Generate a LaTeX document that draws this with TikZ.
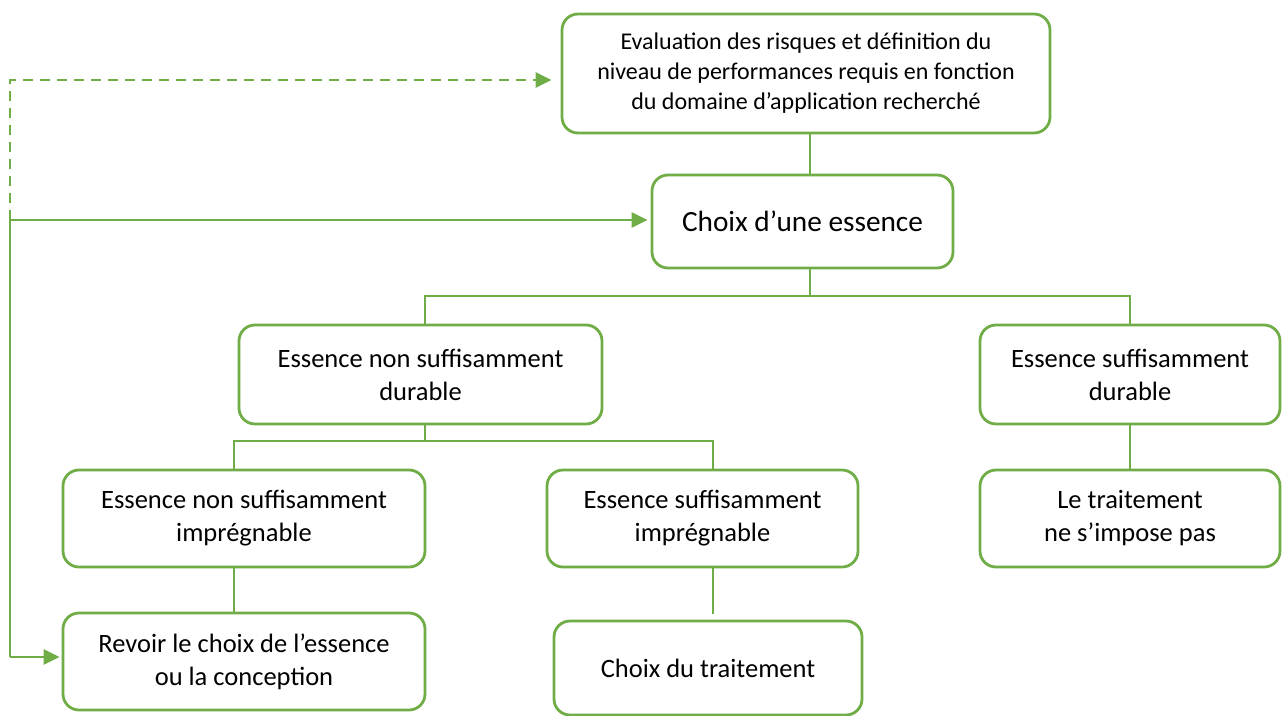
\documentclass[tikz,border=0pt]{standalone}
\usepackage{fontspec}
\setmainfont{Carlito}
\usetikzlibrary{arrows.meta}
\definecolor{leaf}{HTML}{70AD47}
\begin{document}
\begin{tikzpicture}[x=1pt,y=-1pt,
  box/.style={draw=leaf, line width=2.8pt, rounded corners=16pt, fill=white,
    align=center, inner sep=0pt, font=\fontsize{26.5}{33}\selectfont},
  link/.style={draw=leaf, line width=2.8pt},
  arr/.style={link, -{Triangle[length=16pt,width=15pt]}}]
\useasboundingbox (0,0) rectangle (1282,715);

\node[box, minimum width=488pt, minimum height=119pt, font=\fontsize{24}{30}\selectfont] (b1) at (806,73.5)
  {Evaluation des risques et définition du\\niveau de performances requis en fonction\\du domaine d’application recherché};
\node[box, minimum width=301pt, minimum height=93pt, font=\fontsize{29.3}{33}\selectfont] (b2) at (802.5,221.5) {Choix d’une essence};
\node[box, minimum width=363pt, minimum height=99pt] (b3) at (420.5,374.5) {Essence non suffisamment\\durable};
\node[box, minimum width=300pt, minimum height=99pt] (b4) at (1130,374.5) {Essence suffisamment\\durable};
\node[box, minimum width=362pt, minimum height=97pt] (b5) at (244,518.5) {Essence non suffisamment\\imprégnable};
\node[box, minimum width=311pt, minimum height=97pt] (b6) at (702.5,518.5) {Essence suffisamment\\imprégnable};
\node[box, minimum width=300pt, minimum height=97pt] (b7) at (1130,518.5) {Le traitement\\ne s’impose pas};
\node[box, minimum width=362pt, minimum height=97pt] (b8) at (244,661.5) {Revoir le choix de l’essence\\ou la conception};
\node[box, minimum width=308pt, minimum height=94pt] (b9) at (708,668) {Choix du traitement};

% junctions of the tree
\coordinate (j1) at (810,296);
\coordinate (j2) at (425,441);
\coordinate (c5) at (234,441);
\coordinate (c6) at (713,441);

\draw[link] (b1.south -| j1) -- (b2.north -| j1);
\draw[link] (b2.south -| j1) -- (j1);
\draw[link] (b3.north -| j2) |- (j1) -| (b4.north);
\draw[link] (b3.south -| j2) -- (j2);
\draw[link] (b5.north -| c5) |- (j2) -| (b6.north -| c6);
\draw[link] (b5.south -| c5) -- (b8.north -| c5);
\draw[link, shorten >=6pt] (b6.south -| c6) -- (b9.north -| c6);
\draw[link] (b4.south) -- (b7.north);

% feedback loop on the left
\coordinate (fbot) at (10,657);
\coordinate (ftop) at (10,220);
\coordinate (fdash) at (10,80);
\draw[link] (fbot) -- (ftop);
\draw[arr, shorten >=3pt] (ftop) -- (ftop -| b2.west);
\draw[arr, shorten >=2pt] (fbot) -- (fbot -| b8.west);
\draw[arr, dash pattern=on 10pt off 7pt, shorten >=9pt] (ftop) -- (fdash) -- (fdash -| b1.west);
\end{tikzpicture}
\end{document}
